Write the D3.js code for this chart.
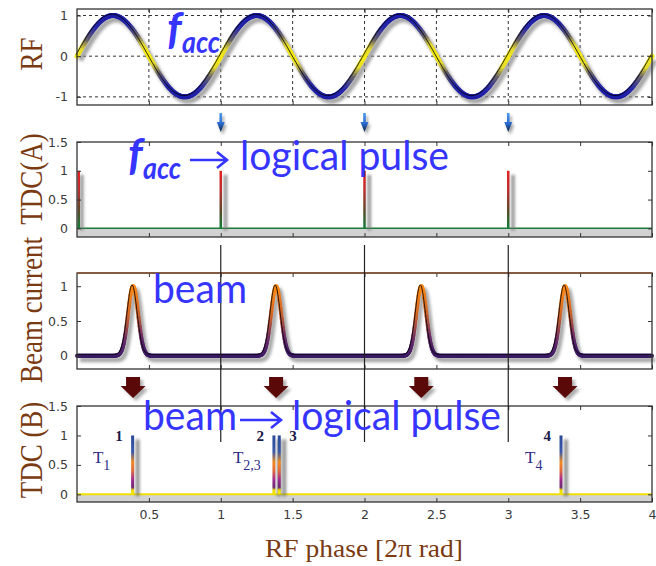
<!DOCTYPE html>
<html>
<head>
<meta charset="utf-8" />
<title>RF phase</title>
<script src="https://d3js.org/d3.v7.min.js"></script>
<style>body{margin:0;background:#fff}</style>
</head>
<body>
<svg id="chart" width=656 height=566></svg>
<script>

var xTicks = [0.5, 1, 1.5, 2, 2.5, 3, 3.5, 4];
var rfTicks = [-1, 0, 1];
var tdcTicks = [0, 0.5, 1, 1.5];
var beamTicks = [0, 0.5, 1];

var rfFreq = 1;                      // one RF period per unit of phase
var tdcAPulses = [0, 1, 2, 3];
var rfArrows = [1, 2, 3];
var beamCenters = [0.39, 1.385, 2.395, 3.395];
var beamSigma = 0.035;
var tdcBPulses = [0.387, 1.37, 1.407, 3.367];
var tdcBNumbers = ["1", "2", "3", "4"];
var tdcBSide = ["left", "left", "right", "left"];
var tLabels = [{sub: "1", at: 0.111}, {sub: "2,3", at: 1.085}, {sub: "4", at: 3.117}];
var refLines = [1, 2, 3];

var svg = d3.select("#chart");
svg.append("rect").attr("width", 656).attr("height", 566).attr("fill", "white");

var defs = svg.append("defs");
defs.append("filter").attr("id", "blur")
  .attr("filterUnits", "userSpaceOnUse")
  .attr("x", 0).attr("y", 0).attr("width", 656).attr("height", 566)
  .append("feGaussianBlur").attr("stdDeviation", 1.6);

function vGrad(id, stops) {
  var g = defs.append("linearGradient").attr("id", id)
    .attr("x1", 0).attr("y1", 0).attr("x2", 0).attr("y2", 1);
  stops.forEach(function(s) {
    g.append("stop").attr("offset", s[0]).attr("stop-color", s[1]);
  });
}
vGrad("gradA", [[0, "#e82020"], [0.35, "#b83030"], [0.7, "#5a4a28"], [1, "#10803a"]]);
vGrad("gradB", [[0, "#2a4a9a"], [0.28, "#3a5aa8"], [0.45, "#f08a20"], [0.6, "#e06a40"],
                [0.75, "#a02a90"], [0.88, "#6a2a70"], [0.93, "#f0e000"], [1, "#f0e000"]]);
vGrad("gradArrow", [[0, "#4a9af0"], [0.55, "#2a6ad0"], [1, "#102040"]]);

var x = d3.scaleLinear().domain([0, 4]).range([77, 652]);

var panels = [
  {id: "rf",   top: 9,   bottom: 105, domain: [-1.2, 1.16],  ticks: rfTicks,   label: "RF",           labelY: 54},
  {id: "tdcA", top: 142, bottom: 237, domain: [-0.15, 1.5],  ticks: tdcTicks,  label: "TDC(A)",       labelY: 179},
  {id: "beam", top: 273, bottom: 369, domain: [-0.19, 1.19], ticks: beamTicks, label: "Beam current", labelY: 310},
  {id: "tdcB", top: 406, bottom: 502, domain: [-0.13, 1.5],  ticks: tdcTicks,  label: "TDC (B)",      labelY: 450}
];
panels.forEach(function(p) {
  p.y = d3.scaleLinear().domain(p.domain).range([p.bottom, p.top]);
});
var rf = panels[0], tdcA = panels[1], beam = panels[2], tdcB = panels[3];

// grey bands below zero on the TDC panels
[tdcA, tdcB].forEach(function(p) {
  svg.append("rect")
    .attr("x", x(0)).attr("width", x(4) - x(0))
    .attr("y", p.y(0)).attr("height", p.bottom - p.y(0))
    .attr("fill", "#d2d2d2");
});

// RF dashed grid
var grid = svg.append("g").attr("stroke", "#333").attr("stroke-dasharray", "3,3").attr("stroke-width", 1);
grid.selectAll(".gv").data(xTicks.slice(0, -1)).enter().append("line")
  .attr("x1", function(d) { return x(d); }).attr("x2", function(d) { return x(d); })
  .attr("y1", rf.top).attr("y2", rf.bottom);
grid.selectAll(".gh").data(rfTicks).enter().append("line")
  .attr("x1", x(0)).attr("x2", x(4))
  .attr("y1", function(d) { return rf.y(d); }).attr("y2", function(d) { return rf.y(d); });

// colored curve helper
function drawCurve(pts, p, colorOf, width) {
  var line = d3.line().x(function(d) { return x(d.t); }).y(function(d) { return p.y(d.v); });
  svg.append("path").attr("d", line(pts)).attr("fill", "none")
    .attr("stroke", "#8a8a8a").attr("stroke-width", width + 1).attr("opacity", 0.75)
    .attr("filter", "url(#blur)").attr("transform", "translate(3,4)");
  var segs = d3.pairs(pts);
  svg.append("g").selectAll("line").data(segs).enter().append("line")
    .attr("x1", function(d) { return x(d[0].t); }).attr("y1", function(d) { return p.y(d[0].v); })
    .attr("x2", function(d) { return x(d[1].t); }).attr("y2", function(d) { return p.y(d[1].v); })
    .attr("stroke", function(d) { return colorOf((d[0].v + d[1].v) / 2); })
    .attr("stroke-width", width).attr("stroke-linecap", "round");
  svg.append("path").attr("d", line(pts)).attr("fill", "none")
    .attr("stroke", "#000").attr("stroke-width", 0.9).attr("opacity", 0.9)
    .attr("transform", "translate(-1,-1.3)");
}

// RF sine
var rfPts = d3.range(0, 4.0001, 0.01).map(function(t) {
  return {t: t, v: Math.sin(2 * Math.PI * rfFreq * t)};
});
var rfColor = d3.scaleLinear().domain([0, 0.22, 0.45, 0.75, 1])
  .range(["#f6ec10", "#e4da30", "#6a6468", "#2828a8", "#1c1ca8"]).clamp(true);
drawCurve(rfPts, rf, function(v) { return rfColor(Math.abs(v)); }, 5);

// TDC(A) baseline and pulses
svg.append("line").attr("x1", x(0)).attr("x2", x(4))
  .attr("y1", tdcA.y(0)).attr("y2", tdcA.y(0))
  .attr("stroke", "#1a7a3a").attr("stroke-width", 1.5);
function drawPulses(data, p, grad, w) {
  var g = svg.append("g");
  g.selectAll(".sh").data(data).enter().append("rect")
    .attr("x", function(d) { return x(d) + 3; }).attr("width", w + 1)
    .attr("y", p.y(1) + 4).attr("height", p.y(0) - p.y(1) - 2)
    .attr("fill", "#777").attr("opacity", 0.8).attr("filter", "url(#blur)");
  g.selectAll(".pl").data(data).enter().append("rect")
    .attr("x", function(d) { return Math.max(x(d) - w / 2, x(0) + 0.5); }).attr("width", w)
    .attr("y", p.y(1)).attr("height", p.y(0) - p.y(1))
    .attr("fill", "url(#" + grad + ")");
}
drawPulses(tdcAPulses, tdcA, "gradA", 2.5);

// beam current
var beamPts = d3.range(0, 4.0001, 0.004).map(function(t) {
  return {t: t, v: d3.max(beamCenters, function(c) {
    return Math.exp(-0.5 * Math.pow((t - c) / beamSigma, 2));
  })};
});
var beamColor = d3.scaleLinear().domain([0, 0.25, 0.6, 1])
  .range(["#3a1a66", "#6a2a6a", "#d06428", "#ff8a10"]).clamp(true);
drawCurve(beamPts, beam, beamColor, 4);

// TDC(B) baseline and pulses
svg.append("line").attr("x1", x(0)).attr("x2", x(4))
  .attr("y1", tdcB.y(0)).attr("y2", tdcB.y(0))
  .attr("stroke", "#f0e000").attr("stroke-width", 2);
drawPulses(tdcBPulses, tdcB, "gradB", 3);

// frames and ticks
panels.forEach(function(p) {
  var g = svg.append("g").attr("class", "axis");
  g.append("g").attr("transform", "translate(0," + p.bottom + ")")
    .call(d3.axisBottom(x).tickValues(xTicks).tickSize(-4).tickPadding(8)
      .tickFormat(p.id === "tdcB" ? function(d) { return String(d); } : function() { return ""; }));
  g.append("g").attr("transform", "translate(0," + p.top + ")")
    .call(d3.axisTop(x).tickValues(xTicks).tickSize(-4).tickFormat(function() { return ""; }));
  g.append("g").attr("transform", "translate(" + x(0) + ",0)")
    .call(d3.axisLeft(p.y).tickValues(p.ticks).tickSize(-4).tickPadding(9)
      .tickFormat(function(d) { return String(d); }));
  g.append("g").attr("transform", "translate(" + x(4) + ",0)")
    .call(d3.axisRight(p.y).tickValues(p.ticks).tickSize(-4).tickFormat(function() { return ""; }));
  g.selectAll(".domain").remove();
  g.selectAll(".tick line").attr("stroke", "#333");
  g.selectAll(".tick text").attr("fill", "#3a3a3a")
    .style("font-family", "DejaVu Sans").style("font-size", "12.5px");
  svg.append("rect").attr("x", x(0)).attr("y", p.top)
    .attr("width", x(4) - x(0)).attr("height", p.bottom - p.top)
    .attr("fill", "none").attr("stroke", "#333").attr("stroke-width", 1.3);
  svg.append("text")
    .attr("transform", "translate(42," + p.labelY + ") scale(1.2,1) rotate(-90)")
    .attr("text-anchor", "middle")
    .style("font-family", "Liberation Serif").style("font-size", "27px")
    .attr("fill", "#7a3a12").text(p.label);
});
svg.append("line").attr("x1", x(0)).attr("x2", x(4))
  .attr("y1", beam.top).attr("y2", beam.top)
  .attr("stroke", "#8a5030").attr("stroke-width", 1.3);

// small blue arrows above TDC(A)
rfArrows.forEach(function(d) {
  var cx = x(d);
  var shape = "M" + (cx - 1.3) + ",113 H" + (cx + 1.3) + " V122 H" + (cx + 4) +
    " L" + cx + ",132 L" + (cx - 4) + ",122 H" + (cx - 1.3) + " Z";
  svg.append("path").attr("d", shape).attr("fill", "#666").attr("opacity", 0.6)
    .attr("filter", "url(#blur)").attr("transform", "translate(2,3)");
  svg.append("path").attr("d", shape).attr("fill", "url(#gradArrow)");
});

// dark red block arrows between beam and TDC(B)
beamCenters.forEach(function(d) {
  var cx = x(d);
  var shape = "M" + (cx - 7) + ",377 H" + (cx + 7) + " V386 H" + (cx + 12.5) +
    " L" + cx + ",398 L" + (cx - 12.5) + ",386 H" + (cx - 7) + " Z";
  svg.append("path").attr("d", shape).attr("fill", "#777").attr("opacity", 0.6)
    .attr("filter", "url(#blur)").attr("transform", "translate(3,3)");
  svg.append("path").attr("d", shape).attr("fill", "#5a0808");
});

// vertical reference lines at whole periods
svg.append("g").selectAll("line").data(refLines).enter().append("line")
  .attr("x1", function(d) { return x(d); }).attr("x2", function(d) { return x(d); })
  .attr("y1", 245).attr("y2", 442)
  .attr("stroke", "#222").attr("stroke-width", 1.2);

// TDC(B) pulse numbers and T labels
svg.append("g").selectAll("text").data(tdcBPulses).enter().append("text")
  .attr("x", function(d, i) { return tdcBSide[i] === "left" ? x(d) - 10 : x(d) + 10; })
  .attr("y", 441)
  .attr("text-anchor", function(d, i) { return tdcBSide[i] === "left" ? "end" : "start"; })
  .style("font-family", "Liberation Serif").style("font-size", "15px").style("font-weight", "bold")
  .attr("fill", "#1a1a4a")
  .text(function(d, i) { return tdcBNumbers[i]; });
tLabels.forEach(function(d) {
  var t = svg.append("text").attr("x", x(d.at)).attr("y", 463)
    .style("font-family", "Liberation Serif").attr("fill", "#2a2a8a");
  t.append("tspan").style("font-size", "17px").text("T");
  t.append("tspan").attr("dy", 7).style("font-size", "14px").text(d.sub);
});

// x axis title
svg.append("text").attr("x", 364).attr("y", 557).attr("text-anchor", "middle")
  .attr("textLength", 198).attr("lengthAdjust", "spacingAndGlyphs")
  .style("font-family", "Liberation Serif").style("font-size", "26px")
  .attr("fill", "#7a3a12").text("RF phase [2\u03c0 rad]");

// blue overlay annotations
var blue = "#3535ff";
function facc(x0, yb) {
  svg.append("text").attr("x", x0).attr("y", yb)
    .style("font-family", "Lato").style("font-style", "italic").style("font-weight", "bold")
    .style("font-size", "44px").attr("fill", blue).text("f");
  svg.append("text").attr("x", x0 + 15).attr("y", yb + 9)
    .attr("textLength", 38).attr("lengthAdjust", "spacingAndGlyphs")
    .style("font-family", "Lato").style("font-style", "italic").style("font-weight", "bold")
    .style("font-size", "31px").attr("fill", blue).text("acc");
}
function bigText(str, x0, yb, len) {
  svg.append("text").attr("x", x0).attr("y", yb)
    .attr("textLength", len).attr("lengthAdjust", "spacingAndGlyphs")
    .style("font-family", "Lato").style("font-size", "40px")
    .attr("fill", blue).text(str);
}
function arrow(x0, x1, yc) {
  svg.append("path")
    .attr("d", "M" + x0 + "," + yc + " H" + x1 + " M" + (x1 - 10) + "," + (yc - 8) +
      " L" + x1 + "," + yc + " L" + (x1 - 10) + "," + (yc + 8))
    .attr("fill", "none").attr("stroke", blue).attr("stroke-width", 2.6);
}
facc(167, 44);
facc(128, 170);
arrow(190, 227, 160);
bigText("logical pulse", 240, 170, 209);
bigText("beam", 153, 303, 94);
bigText("beam", 143, 430, 94);
arrow(240, 281, 420);
bigText("logical pulse", 292, 430, 209);

</script>
</body>
</html>
